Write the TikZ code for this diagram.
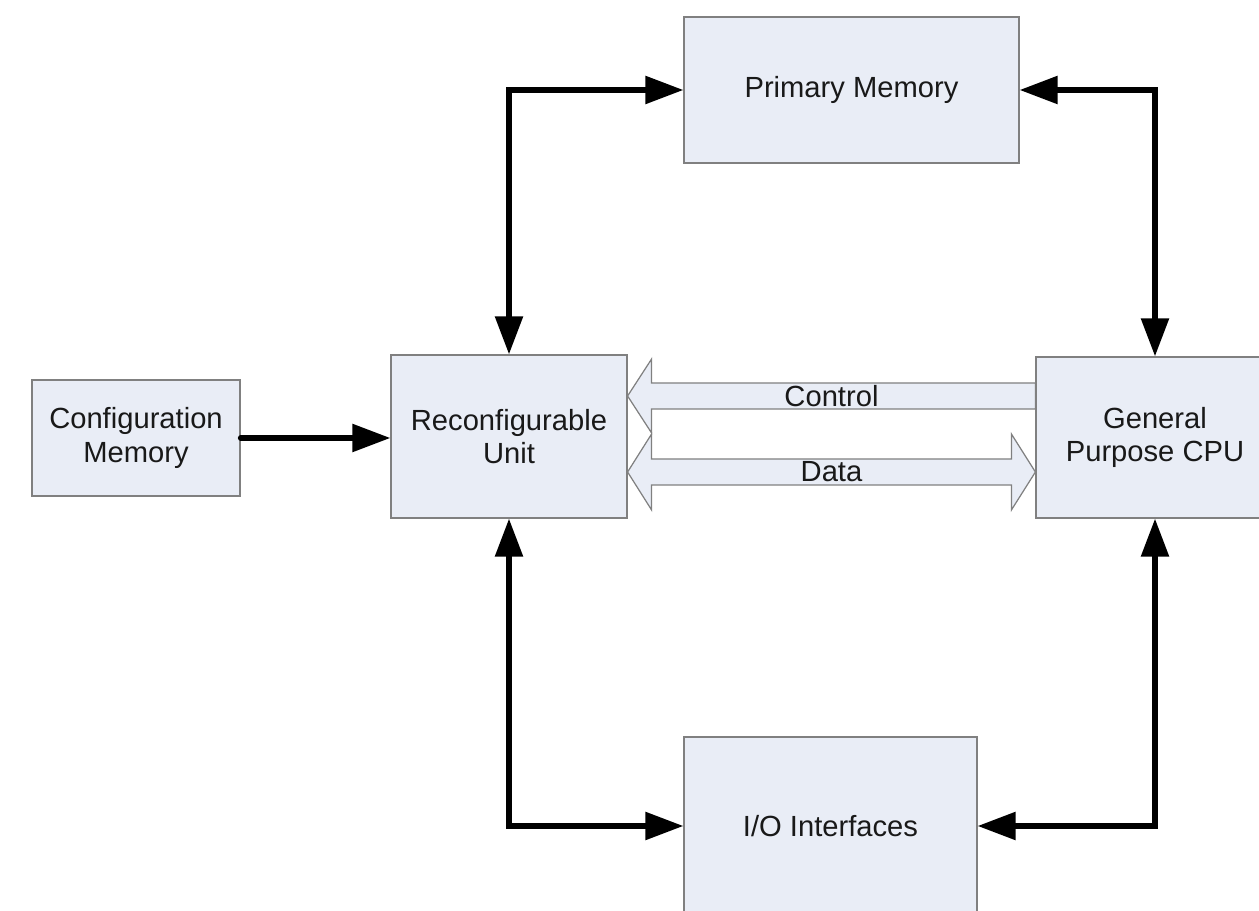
\documentclass[tikz,border=0pt]{standalone}
\usepackage{fontspec}
\setmainfont{Liberation Sans}
\usetikzlibrary{arrows.meta,calc}

\definecolor{boxfill}{HTML}{E9EDF6}
\definecolor{boxline}{HTML}{808080}

\begin{document}
\begin{tikzpicture}[
x=0.02cm, y=-0.02cm,
block/.style={rectangle, draw=boxline, line width=0.7pt, fill=boxfill, inner sep=0pt, align=center, text=black!90, font=\fontsize{16.6}{19}\selectfont},
link/.style={line width=3.1pt, {Triangle[length=0.76cm, width=0.54cm]}-{Triangle[length=0.76cm, width=0.54cm]}},
bus/.style={draw=boxline, line width=0.7pt, fill=boxfill, line join=miter},
buslabel/.style={inner sep=0pt, text=black!90, font=\fontsize{16.6}{19}\selectfont}
]
\useasboundingbox (0,0) rectangle (1259,911);

\node[block, minimum width=4.16cm, minimum height=2.32cm] at (136, 438) (cfg) {Configuration\\Memory};
\node[block, minimum width=4.72cm, minimum height=3.26cm] at (509, 436.5) (ru) {Reconfigurable\\Unit};
\node[block, minimum width=6.7cm, minimum height=2.92cm] at (851.5, 90) (pm) {Primary Memory};
\node[block, minimum width=4.76cm, minimum height=3.22cm] at (1155, 437.5) (cpu) {General\\Purpose CPU};
\node[block, minimum width=5.86cm, minimum height=3.56cm] at (830.5, 826) (io) {I/O Interfaces};

\coordinate (ctl) at (0, 396);
\coordinate (dat) at (0, 472);

% hollow buses between the unit and the cpu
\draw[bus] (ru.east|-ctl) -- ++(24,-37) -- ++(0,24) -- ($(cpu.west|-ctl)+(0,-13)$)
  -- ($(cpu.west|-ctl)+(0,13)$) -- ($(ru.east|-ctl)+(24,13)$) -- ++(0,24) -- cycle;
\draw[bus] (ru.east|-dat) -- ++(24,-38) -- ++(0,25) -- ($(cpu.west|-dat)+(-24,-13)$)
  -- ++(0,-25) -- (cpu.west|-dat) -- ++(-24,38) -- ++(0,-25)
  -- ($(ru.east|-dat)+(24,13)$) -- ++(0,25) -- cycle;
\node[buslabel] at ($(ru.east|-ctl)!0.5!(cpu.west|-ctl)$) (ctltext) {Control};
\node[buslabel] at ($(ru.east|-dat)!0.5!(cpu.west|-dat)$) (dattext) {Data};

\draw[link] (pm.west) -| (ru.north);
\draw[link] (pm.east) -| (cpu.north);
\draw[link] (io.west) -| (ru.south);
\draw[link] (io.east) -| (cpu.south);
\draw[link, line cap=round, {}-{Triangle[length=0.76cm, width=0.54cm]}] (cfg.east) -- (cfg.east -| ru.west);
\end{tikzpicture}
\end{document}
